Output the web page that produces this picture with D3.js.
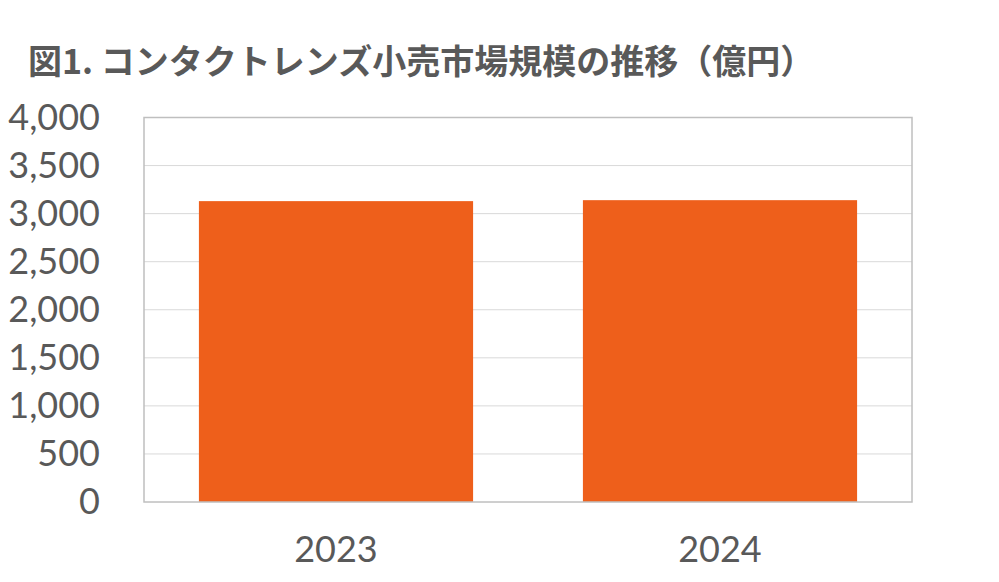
<!DOCTYPE html>
<html>
<head>
<meta charset="utf-8">
<script src="https://cdn.jsdelivr.net/npm/d3@7"></script>
<style>
  body { margin: 0; background: #fff; }
  svg { display: block; }
</style>
</head>
<body>
<svg id="chart" width="999" height="582"></svg>
<script>
const width = 999, height = 582;

// data
const titleText = "図1. コンタクトレンズ小売市場規模の推移（億円）";
const years = ["2023", "2024"];
const marketSize = [3130, 3140];
const yTicks = [0, 500, 1000, 1500, 2000, 2500, 3000, 3500, 4000];

const margin = { top: 117.5, right: 87, bottom: 80, left: 144 };

const svg = d3.select("#chart");

const x = d3.scaleBand()
    .domain(years)
    .range([margin.left, width - margin.right])
    .paddingInner(0.286)
    .paddingOuter(0.143);

const y = d3.scaleLinear()
    .domain([0, 4000])
    .range([height - margin.bottom, margin.top]);

// title
svg.append("text")
    .attr("x", 28)
    .attr("y", 74)
    .attr("fill", "#595959")
    .attr("font-family", "'Noto Sans CJK JP', sans-serif")
    .attr("font-weight", "bold")
    .attr("font-size", 34)
    .text(titleText);

// gridlines
svg.append("g")
    .selectAll("line")
    .data(yTicks.slice(1, -1))
    .join("line")
    .attr("x1", margin.left)
    .attr("x2", width - margin.right)
    .attr("y1", d => y(d))
    .attr("y2", d => y(d))
    .attr("stroke", "#d9d9d9")
    .attr("stroke-width", 1);

// bars
svg.append("g")
    .selectAll("rect")
    .data(years)
    .join("rect")
    .attr("x", d => x(d))
    .attr("width", x.bandwidth())
    .attr("y", (d, i) => y(marketSize[i]))
    .attr("height", (d, i) => y(0) - y(marketSize[i]))
    .attr("fill", "#ee5f1b");

// plot frame
svg.append("rect")
    .attr("x", margin.left)
    .attr("y", margin.top)
    .attr("width", width - margin.left - margin.right)
    .attr("height", y(0) - margin.top)
    .attr("fill", "none")
    .attr("stroke", "#bfbfbf")
    .attr("stroke-width", 1.5);

// y axis
const yAxis = svg.append("g")
    .attr("transform", `translate(${margin.left},0)`)
    .call(d3.axisLeft(y).tickValues(yTicks).tickFormat(d3.format(",")).tickSize(0).tickPadding(44));
yAxis.select(".domain").remove();
yAxis.selectAll("text")
    .attr("fill", "#595959")
    .attr("font-family", "Lato, sans-serif")
    .attr("font-size", 36);

// x axis
const xAxis = svg.append("g")
    .attr("transform", `translate(0,${y(0)})`)
    .call(d3.axisBottom(x).tickSize(0).tickPadding(34));
xAxis.select(".domain").remove();
xAxis.selectAll("text")
    .attr("fill", "#595959")
    .attr("font-family", "Lato, sans-serif")
    .attr("font-size", 36);
</script>
</body>
</html>
